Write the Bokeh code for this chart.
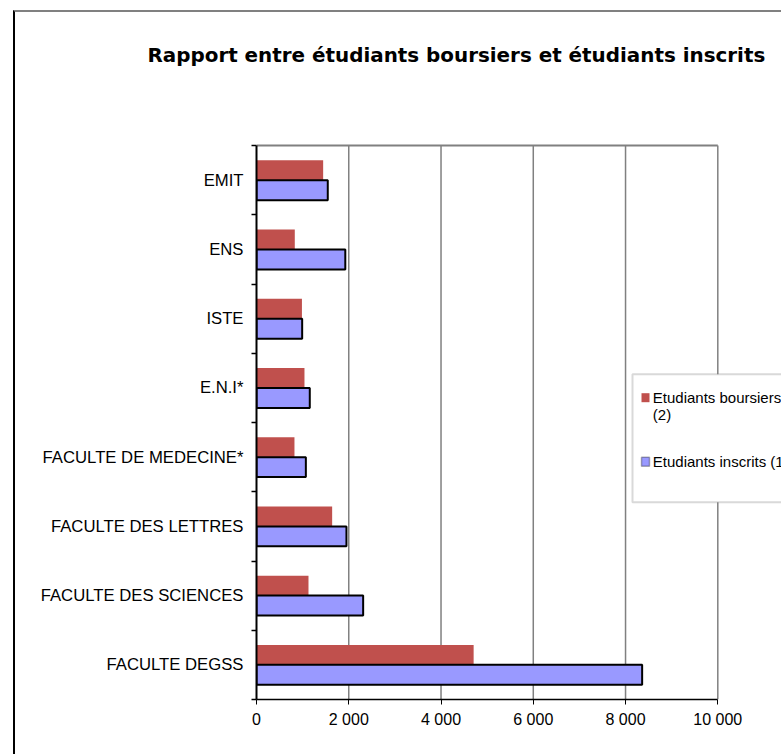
from bokeh.plotting import figure
from bokeh.models import Range1d, FixedTicker, Label, BoxAnnotation, ColumnDataSource, Title
from bokeh.embed import file_html
from bokeh.resources import INLINE

# ---- data ----
categories = ["EMIT", "ENS", "ISTE", "E.N.I*", "FACULTE DE MEDECINE*",
              "FACULTE DES LETTRES", "FACULTE DES SCIENCES", "FACULTE DEGSS"]
boursiers = [1445, 830, 985, 1040, 823, 1640, 1127, 4707]
inscrits = [1545, 1925, 990, 1155, 1070, 1950, 2312, 8360]
series_names = ["Etudiants boursiers\n(2)", "Etudiants inscrits (1)"]
x_ticks = [0, 2000, 4000, 6000, 8000, 10000]
x_tick_labels = ["0", "2 000", "4 000", "6 000", "8 000", "10 000"]
title_text = "Rapport entre étudiants boursiers et étudiants inscrits"

RED = "#C0504D"
BLUE = "#9999FF"
GRID = "#808080"

n = len(categories)
centers = [n - i - 0.5 for i in range(n)]
src = ColumnDataSource(dict(
    cat=categories,
    y_b=[c + 0.144 for c in centers],
    y_i=[c - 0.144 for c in centers],
    boursiers=boursiers,
    inscrits=inscrits,
))

# canvas geometry: the chart is cut off at the right edge, as in the reference
W, H = 768, 744
ML, MT, MB = 241, 131, 57
frame_w = W - ML
x_max = x_ticks[-1] * frame_w / 461.3   # value scale continues past the cut edge

p = figure(width=W, height=H, x_range=Range1d(0, x_max), y_range=Range1d(0, n + 0.03),
           output_backend="svg", toolbar_location=None,
           min_border_left=ML, min_border_right=0, min_border_top=MT, min_border_bottom=MB)
p.styles = {"margin-left": "13px", "margin-top": "10px",
            "border-left": "2px solid black", "border-top": "2px solid #808080"}
p.background_fill_color = "white"
p.border_fill_color = "white"
p.outline_line_color = None
p.grid.visible = False

# plot-area gridlines and top edge
p.segment(x0=x_ticks[1:], y0=[0] * (len(x_ticks) - 1), x1=x_ticks[1:], y1=[n] * (len(x_ticks) - 1),
          line_color=GRID, line_width=1.5)
p.segment(x0=[x_ticks[0]], y0=[n], x1=[x_ticks[-1]], y1=[n], line_color=GRID, line_width=2)

p.hbar(y="y_b", left=0, right="boursiers", height=0.2886, fill_color=RED,
       line_color=None, source=src)
p.hbar(y="y_i", left=0, right="inscrits", height=0.2886, fill_color=BLUE,
       line_color="black", line_width=2, source=src)

# x axis
xa = p.xaxis[0]
xa.ticker = FixedTicker(ticks=x_ticks)
xa.bounds = (x_ticks[0], x_ticks[-1])
xa.major_label_overrides = {t: l for t, l in zip(x_ticks, x_tick_labels)}
xa.major_tick_in = 0
xa.major_tick_out = 5
xa.minor_tick_line_color = None
xa.axis_line_color = "black"
xa.axis_line_width = 1.5
xa.major_tick_line_color = "black"
xa.major_label_text_font = "Liberation Sans"
xa.major_label_text_font_size = "16px"
xa.major_label_text_color = "black"
xa.major_label_standoff = 6

# y axis: labels at category centres, tick marks at category boundaries
ya = p.yaxis[0]
ya.ticker = FixedTicker(ticks=centers, minor_ticks=list(range(n + 1)))
ya.bounds = (0, n)
ya.major_label_overrides = {c: cat for c, cat in zip(centers, categories)}
ya.major_tick_line_color = None
ya.major_tick_in = 0
ya.major_tick_out = 0
ya.minor_tick_in = 0
ya.minor_tick_out = 5
ya.minor_tick_line_color = "black"
ya.minor_tick_line_width = 1.5
ya.axis_line_color = "black"
ya.axis_line_width = 2
ya.major_label_text_font = "Liberation Sans"
ya.major_label_text_font_size = "16.7px"
ya.major_label_text_color = "black"
ya.major_label_standoff = 8

# title
p.title.text = title_text
p.title.text_font = "DejaVu Sans"
p.title.text_font_style = "bold"
p.title.text_font_size = "19.9px"
p.title.text_color = "black"
p.title.align = "left"
p.title.offset = -109
p.title.standoff = 10
# empty spacer panel between the title and the plot area
p.add_layout(Title(text=" ", text_font_size="10px", standoff=59), "above")

# legend (drawn manually; it is cut off by the right edge like the reference)
def screen_box(**kw):
    return BoxAnnotation(left_units="screen", right_units="screen",
                         top_units="screen", bottom_units="screen", fill_alpha=1, **kw)

p.add_layout(screen_box(left=376, right=600, top=325.3, bottom=197.3,
                        fill_color="white", line_color=GRID, line_width=2))
p.add_layout(screen_box(left=385, right=393, top=306.3, bottom=297.3,
                        fill_color=RED, line_color=None))
p.add_layout(screen_box(left=385, right=393, top=242.3, bottom=233.3,
                        fill_color=BLUE, line_color="black", line_width=1.5))
p.add_layout(Label(x=396.3, y=310.3, x_units="screen", y_units="screen",
                   text=series_names[0], text_font="Liberation Sans", text_font_size="15px",
                   text_baseline="top", text_line_height=1.0, text_color="black"))
p.add_layout(Label(x=396.3, y=237.6, x_units="screen", y_units="screen",
                   text=series_names[1], text_font="Liberation Sans", text_font_size="15px",
                   text_baseline="middle", text_color="black"))

open("out.html", "w").write(file_html(p, INLINE))
